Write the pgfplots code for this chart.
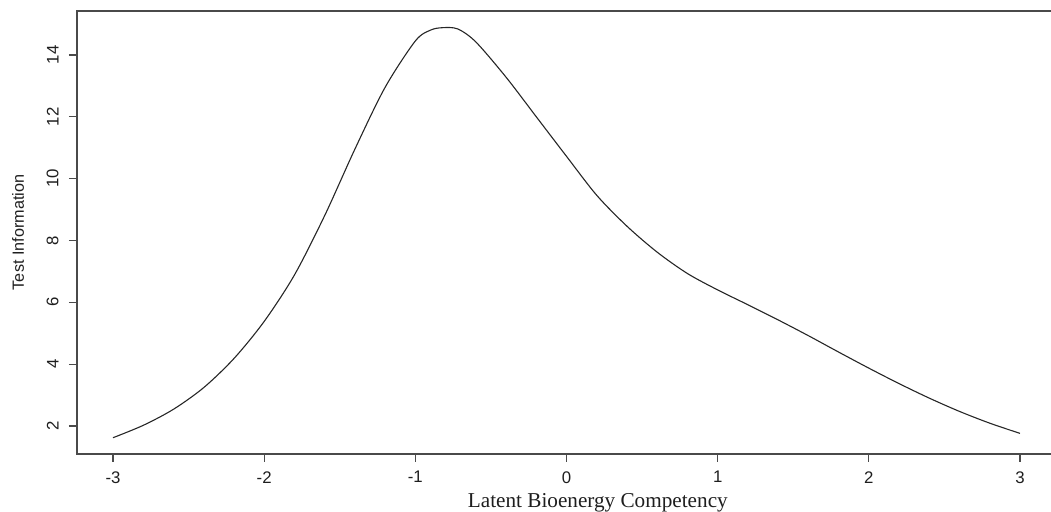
\documentclass[border=0pt]{standalone}
\usepackage{fontspec}
\setmainfont{Liberation Serif}
\setsansfont{Liberation Sans}
\usepackage{pgfplots}
\pgfplotsset{compat=1.18}
\definecolor{boxgray}{HTML}{4A4A4A}
\definecolor{txtgray}{HTML}{1E1E1E}

\pgfplotstableread{
x y
-3.00 1.62
-2.80 2.02
-2.60 2.54
-2.40 3.24
-2.20 4.18
-2.00 5.38
-1.80 6.88
-1.60 8.80
-1.40 10.95
-1.20 12.95
-1.00 14.45
-0.90 14.80
-0.82 14.88
-0.72 14.84
-0.60 14.42
-0.40 13.28
-0.20 12.00
0.00 10.72
0.20 9.46
0.40 8.46
0.60 7.62
0.80 6.93
1.00 6.40
1.20 5.92
1.40 5.43
1.60 4.92
1.80 4.39
2.00 3.87
2.20 3.37
2.40 2.90
2.60 2.47
2.80 2.09
3.00 1.76
}\tinfo

\begin{document}
\begin{tikzpicture}
\begin{axis}[
  scale only axis,
  width=489.5pt, height=221.5pt,
  xmin=-3.238, xmax=3.238,
  ymin=1.094, ymax=15.42,
  axis line style={boxgray, line width=0.7pt},
  tick style={boxgray, line width=0.6pt},
  tick align=outside,
  major tick length=4pt,
  xtick pos=lower, ytick pos=left,
  xtick={-3,-2,-1,0,1,2,3},
  xticklabels={-3,-2,-1,0,1,2,3},
  ytick={2,4,6,8,10,12,14},
  yticklabels={2,4,6,8,10,12,14},
  ticklabel style={font=\sffamily\fontsize{8.4}{10}\selectfont, txtgray},
  xticklabel style={inner sep=0pt, yshift=-4.5pt},
  yticklabel style={rotate=90, anchor=south, inner sep=0pt, yshift=5pt},
  xlabel={Latent Bioenergy Competency},
  ylabel={Test Information},
  xlabel style={at={(rel axis cs:0.532,-0.1219)}, anchor=base,
    font=\rmfamily\fontsize{10.6}{12}\selectfont, txtgray, inner sep=0pt},
  ylabel style={at={(rel axis cs:-0.0603,0.5)}, anchor=center,
    font=\sffamily\fontsize{8.1}{10}\selectfont, txtgray, inner sep=0pt},
]
\addplot[black!85, line width=0.55pt, smooth] table[x=x, y=y] {\tinfo};
\end{axis}
\pgfresetboundingbox
\useasboundingbox ([xshift=-38.5pt,yshift=-29pt]current axis.south west)
  rectangle ([xshift=-2.5pt,yshift=5.5pt]current axis.north east);
\end{tikzpicture}
\end{document}
